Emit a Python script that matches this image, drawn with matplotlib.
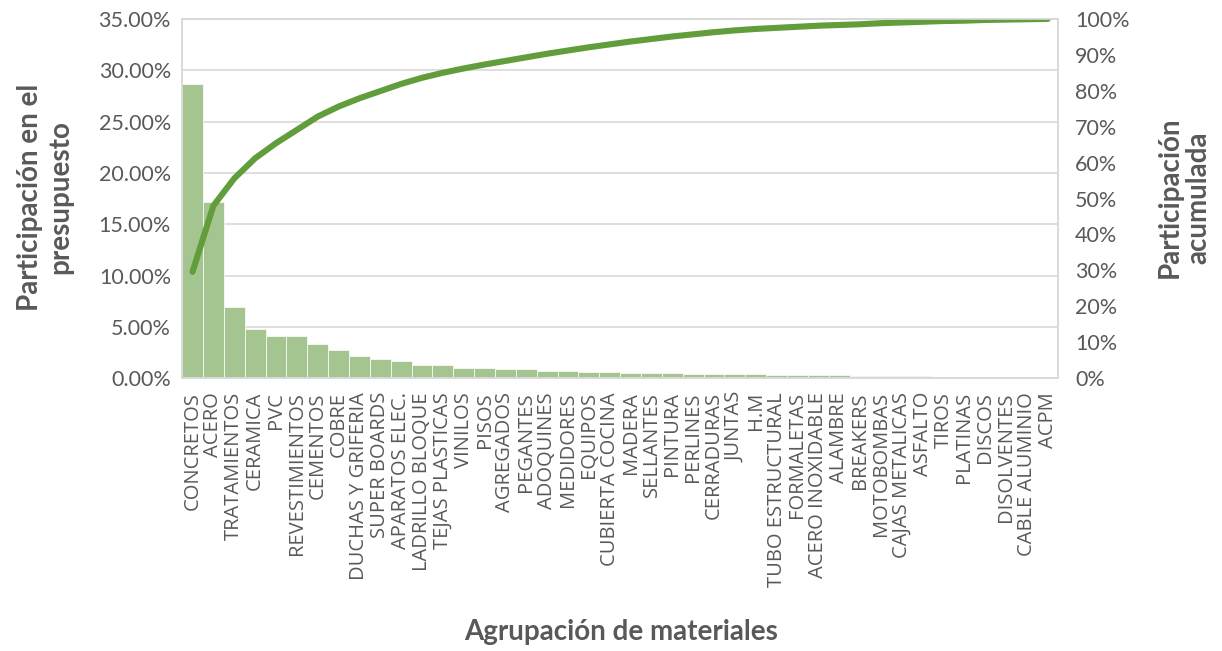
import matplotlib
matplotlib.use('Agg')
import matplotlib.pyplot as plt
from matplotlib.ticker import PercentFormatter, FuncFormatter

materiales = [
    "CONCRETOS", "ACERO", "TRATAMIENTOS", "CERAMICA", "PVC", "REVESTIMIENTOS",
    "CEMENTOS", "COBRE", "DUCHAS Y GRIFERIA", "SUPER BOARDS", "APARATOS ELEC.",
    "LADRILLO BLOQUE", "TEJAS PLASTICAS", "VINILOS", "PISOS", "AGREGADOS",
    "PEGANTES", "ADOQUINES", "MEDIDORES", "EQUIPOS", "CUBIERTA COCINA", "MADERA",
    "SELLANTES", "PINTURA", "PERLINES", "CERRADURAS", "JUNTAS", "H.M",
    "TUBO ESTRUCTURAL", "FORMALETAS", "ACERO INOXIDABLE", "ALAMBRE", "BREAKERS",
    "MOTOBOMBAS", "CAJAS METALICAS", "ASFALTO", "TIROS", "PLATINAS", "DISCOS",
    "DISOLVENTES", "CABLE ALUMINIO", "ACPM",
]

# Participacion en el presupuesto (fraccion)
participacion = [
    0.2866, 0.1713, 0.0695, 0.0484, 0.0409, 0.0409, 0.0335, 0.0273, 0.0214,
    0.0192, 0.0172, 0.0127, 0.0124, 0.0100, 0.0100, 0.0091, 0.0091, 0.0071,
    0.0068, 0.0061, 0.0058, 0.0055, 0.0055, 0.0052, 0.0045, 0.0045, 0.0042,
    0.0039, 0.0036, 0.0030, 0.0028, 0.0027, 0.0025, 0.0022, 0.0020, 0.0017,
    0.0015, 0.0012, 0.0004, 0.0003, 0.0002, 0.0001,
]

# Participacion acumulada (fraccion)
acumulada = [
    0.296, 0.480, 0.556, 0.612, 0.654, 0.691, 0.728, 0.756, 0.779, 0.799,
    0.819, 0.836, 0.850, 0.862, 0.873, 0.883, 0.893, 0.903, 0.912, 0.921,
    0.929, 0.937, 0.944, 0.951, 0.957, 0.963, 0.968, 0.972, 0.975, 0.978,
    0.981, 0.983, 0.985, 0.988, 0.990, 0.992, 0.994, 0.995, 0.997, 0.998,
    0.999, 1.000,
]

GRIS = "#595959"
VERDE_BARRA = "#A5C590"
VERDE_LINEA = "#629D3C"
GRID = "#D9D9D9"

fig = plt.figure(figsize=(12.22, 6.51), dpi=100)
ax = fig.add_axes([0.149, 0.419, 0.717, 0.552])
ax2 = ax.twinx()

pos = list(range(len(materiales)))
ax.bar(pos, participacion, width=1.0, color=VERDE_BARRA, edgecolor="white", linewidth=0.5, zorder=2)
ax2.plot(pos, acumulada, color=VERDE_LINEA, linewidth=4.4, solid_capstyle="round", solid_joinstyle="round")

ax.set_xlim(-0.5, len(materiales) - 0.5)
ax.set_ylim(0, 0.35)
ax.set_yticks([i * 0.05 for i in range(8)])
ax.yaxis.set_major_formatter(FuncFormatter(lambda v, p: f"{v * 100:.2f}%"))
ax2.set_ylim(0, 1)
ax2.set_yticks([i * 0.1 for i in range(11)])
ax2.yaxis.set_major_formatter(PercentFormatter(1.0, decimals=0))

ax.grid(axis="y", color=GRID, linewidth=1.2, zorder=0)
ax.set_axisbelow(True)

for a in (ax, ax2):
    for s in a.spines.values():
        s.set_color(GRID)
        s.set_linewidth(1.2)
    a.tick_params(length=0, colors=GRIS, labelsize=15.5)
    for lbl in a.get_yticklabels():
        lbl.set_family("Lato")

ax.tick_params(axis="y", pad=8)
ax2.tick_params(axis="y", pad=12)

ax.set_xticks(pos)
ax.set_xticklabels(materiales, rotation=90, fontsize=14.5, family="Open Sans", color=GRIS)
ax.tick_params(axis="x", pad=10)

fig.text(0.037, 0.697, "Participación en el\npresupuesto", rotation=90, ha="center", va="center",
         fontsize=20, fontweight="bold", color=GRIS, family="Lato", linespacing=1.2)
fig.text(0.969, 0.697, "Participación\nacumulada", rotation=90, ha="center", va="center",
         fontsize=20, fontweight="bold", color=GRIS, family="Lato", linespacing=1.15)
fig.text(0.508, 0.029, "Agrupación de materiales", ha="center", va="center",
         fontsize=20, fontweight="bold", color=GRIS, family="Lato")

plt.savefig("out.png", dpi=100)
plt.close()
